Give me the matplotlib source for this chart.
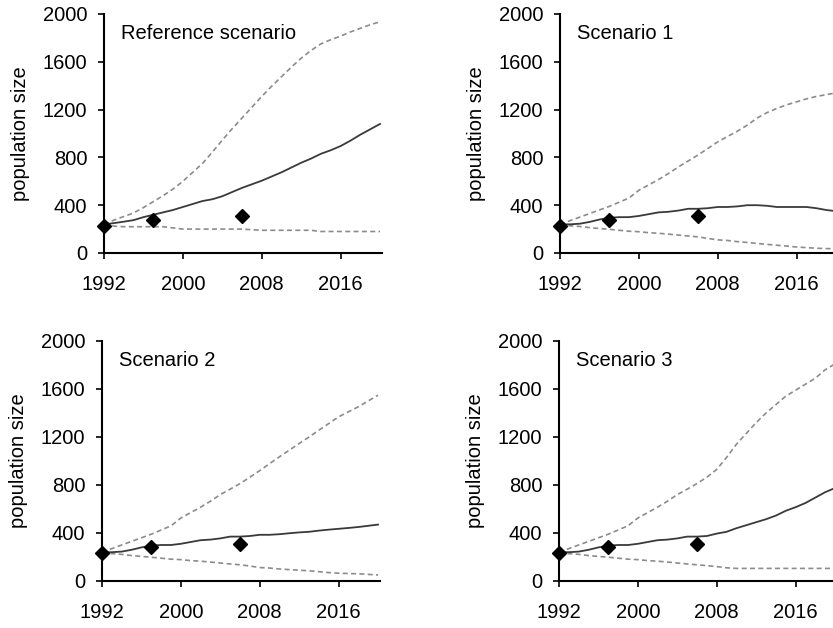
import matplotlib
matplotlib.use("Agg")
import matplotlib.pyplot as plt
import numpy as np

plt.rcParams['font.family'] = ['Liberation Sans', 'DejaVu Sans']

years = list(range(1992, 2021))
obs_years = [1992, 1997, 2006]
obs_values = [230, 280, 310]

ref_mean = [240, 250, 262, 275, 300, 320, 340, 360, 385, 410, 435, 450, 475, 510, 545,
            575, 605, 640, 675, 715, 755, 790, 830, 860, 895, 940, 990, 1035, 1080]
ref_upper = [240, 275, 305, 335, 380, 430, 480, 535, 600, 675, 750, 845, 945, 1040, 1130,
             1220, 1310, 1395, 1475, 1555, 1630, 1695, 1750, 1785, 1815, 1850, 1880, 1910, 1935]
ref_lower = [240, 225, 220, 220, 220, 220, 220, 210, 200, 200, 200, 200, 200, 200, 200,
             195, 190, 190, 190, 190, 190, 190, 180, 180, 180, 180, 180, 180, 180]

s1_mean = [240, 240, 245, 260, 280, 295, 300, 300, 310, 325, 340, 345, 355, 370, 370,
           375, 385, 385, 390, 400, 400, 395, 385, 385, 385, 385, 375, 360, 350]
s1_upper = [240, 270, 300, 330, 360, 390, 425, 460, 525, 570, 615, 665, 720, 770, 820,
            875, 930, 975, 1020, 1070, 1130, 1175, 1210, 1240, 1265, 1290, 1310, 1325, 1340]
s1_lower = [230, 228, 222, 212, 205, 198, 190, 182, 178, 170, 165, 158, 150, 142, 135,
            122, 110, 105, 95, 88, 80, 72, 65, 58, 50, 45, 40, 37, 35]

s2_mean = [240, 240, 245, 260, 280, 295, 300, 300, 310, 325, 340, 345, 355, 370, 370,
           375, 385, 385, 390, 398, 405, 410, 420, 428, 435, 442, 450, 460, 470]
s2_upper = [240, 270, 300, 330, 360, 390, 425, 460, 525, 570, 615, 665, 720, 765, 812,
            865, 920, 978, 1035, 1090, 1146, 1200, 1257, 1312, 1368, 1410, 1452, 1500, 1549]
s2_lower = [230, 228, 222, 212, 205, 198, 190, 182, 178, 170, 165, 158, 150, 142, 135,
            125, 112, 108, 100, 95, 90, 85, 78, 70, 65, 62, 60, 55, 50]

s3_mean = [240, 240, 245, 260, 280, 295, 300, 300, 310, 325, 340, 345, 355, 370, 370,
           375, 395, 410, 440, 465, 490, 515, 545, 585, 615, 650, 695, 740, 775]
s3_upper = [240, 270, 300, 330, 360, 390, 425, 460, 525, 570, 615, 665, 720, 765, 812,
            865, 930, 1030, 1140, 1230, 1320, 1400, 1470, 1540, 1590, 1640, 1690, 1760, 1810]
s3_lower = [230, 228, 222, 212, 205, 198, 190, 182, 178, 170, 165, 158, 150, 142, 135,
            128, 120, 110, 105, 105, 105, 105, 105, 105, 105, 105, 105, 105, 105]

titles = ["Reference scenario", "Scenario 1", "Scenario 2", "Scenario 3"]
means = [ref_mean, s1_mean, s2_mean, s3_mean]
uppers = [ref_upper, s1_upper, s2_upper, s3_upper]
lowers = [ref_lower, s1_lower, s2_lower, s3_lower]

W, H = 833, 628
fig = plt.figure(figsize=(W / 100, H / 100), dpi=100)

FS = 14.5
# panel rectangles in pixels: left, y of value 0, y of value 2000, width
panels = [(104, 253, 14, 278), (560, 253, 14, 278), (102, 581, 341, 278), (559, 581, 341, 278)]

for (lx, by, ty, wd), title, m, u, l in zip(panels, titles, means, uppers, lowers):
    ax = fig.add_axes([lx / W, 1 - by / H, wd / W, (by - ty) / H])
    ax.plot(years, u, color='#8c8c8c', lw=1.2, dashes=(3, 2))
    ax.plot(years, l, color='#8c8c8c', lw=1.2, dashes=(3, 2))
    ax.plot(years, m, color='#3a3a3a', lw=1.3)
    ax.plot(obs_years, obs_values, linestyle='none', marker='D', markersize=7.5,
            color='black', clip_on=False, zorder=5)
    ax.set_xlim(1992, 2020.2)
    ax.set_ylim(0, 2000)
    ax.set_xticks([1992, 2000, 2008, 2016])
    ax.set_yticks([0, 400, 800, 1200, 1600, 2000])
    for s in ['top', 'right']:
        ax.spines[s].set_visible(False)
    for s in ['left', 'bottom']:
        ax.spines[s].set_linewidth(1.5)
        ax.spines[s].set_color('black')
    ax.tick_params(axis='x', direction='out', length=4, width=1.2, pad=12, labelsize=FS)
    ax.tick_params(axis='y', direction='out', length=4, width=1.2, pad=8, labelsize=FS)
    ax.set_ylabel("population size", fontsize=FS, labelpad=9)
    ax.text(0.06, 0.92, title, transform=ax.transAxes, fontsize=FS,
            ha='left', va='center')

fig.savefig("out.png", dpi=100)
